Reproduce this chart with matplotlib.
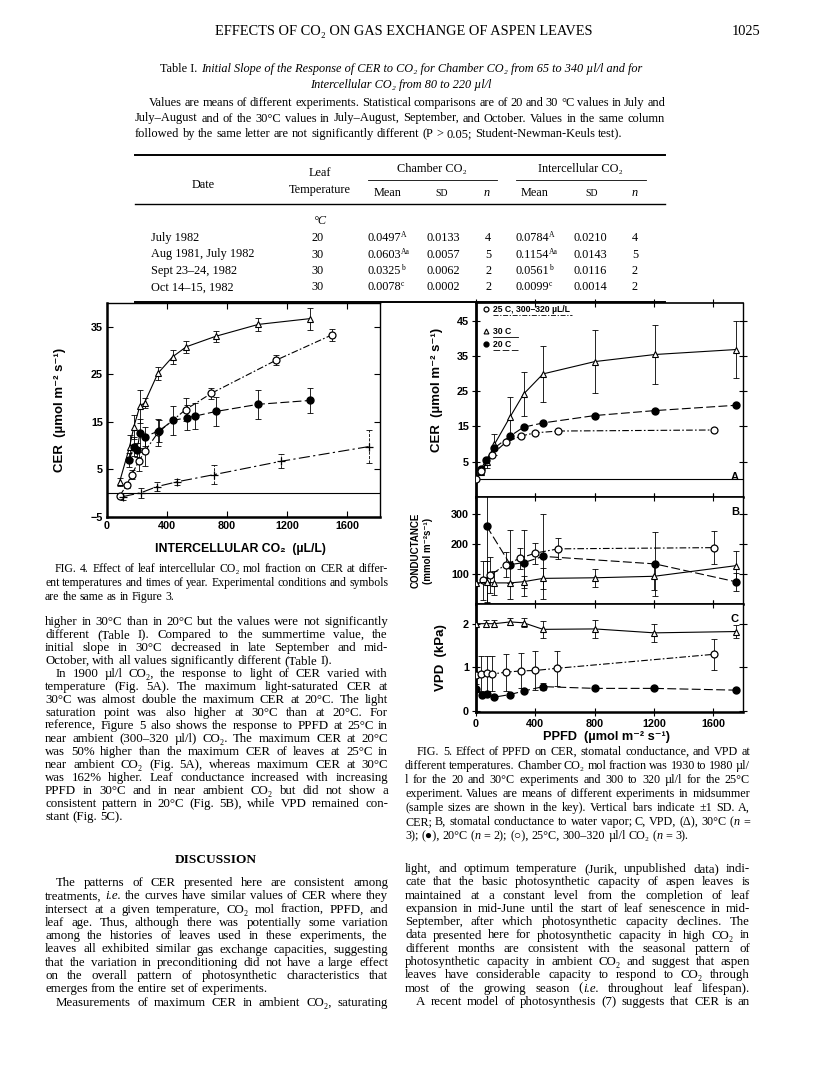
import re
import numpy as np
import matplotlib
matplotlib.use("Agg")
import matplotlib.pyplot as plt
from matplotlib.font_manager import FontProperties
from matplotlib.lines import Line2D

# ---------------- Fig. 4 : CER vs intercellular CO2 ----------------
f4_tri_x = [84, 150, 179, 219, 250, 339, 438, 529, 725, 1009, 1350]
f4_tri_y = [2.4, 9.7, 14.0, 18.3, 19.0, 25.2, 28.7, 30.8, 33.0, 35.5, 36.7]
f4_tri_e = [0.8, 2.5, 2.5, 3.5, 1.0, 1.3, 1.5, 1.3, 1.2, 1.3, 2.3]

f4_open_x = [86, 131, 164, 212, 252, 341, 525, 695, 1129, 1500]
f4_open_y = [-0.5, 1.7, 3.9, 6.7, 8.8, 12.8, 17.6, 21.0, 28.0, 33.3]
f4_open_e = [0.3, 0.5, 1.0, 2.0, 3.0, 2.8, 2.5, 1.2, 1.0, 1.2]

f4_fill_x = [148, 179, 201, 219, 252, 345, 440, 535, 584, 728, 1009, 1350]
f4_fill_y = [7.0, 9.8, 9.1, 12.6, 11.9, 13.1, 15.3, 15.9, 16.2, 17.2, 18.7, 19.5]
f4_fill_e = [1.5, 2.0, 1.5, 3.0, 2.0, 2.3, 3.0, 2.7, 2.7, 3.0, 3.0, 2.7]

f4_cross_x = [108, 226, 334, 467, 712, 1157, 1744]
f4_cross_y = [-0.7, 0.1, 1.4, 2.4, 3.9, 6.7, 9.8]
f4_cross_e = [0.7, 1.0, 1.0, 0.6, 2.0, 1.5, 3.5]

# ---------------- Fig. 5 : response to PPFD ----------------
# A, CER
f5a_tri_x = [36, 72, 124, 231, 321, 452, 802, 1207, 1750]
f5a_tri_y = [2.0, 4.8, 9.9, 17.8, 24.2, 29.9, 33.4, 35.4, 36.8]
f5a_tri_e = [0.5, 1.5, 3.0, 5.5, 6.3, 8.0, 9.0, 8.5, 8.2]
f5a_fill_x = [36, 68, 124, 231, 321, 452, 802, 1207, 1750]
f5a_fill_y = [3.0, 5.6, 8.9, 12.3, 14.8, 16.0, 18.1, 19.5, 21.0]
f5a_open_x = [0, 32, 106, 201, 303, 400, 554, 1605]
f5a_open_y = [0.0, 2.3, 7.0, 10.5, 12.3, 13.2, 13.7, 14.0]
# B, conductance
f5b_fill_x = [72, 231, 321, 452, 1207, 1750]
f5b_fill_y = [258, 131, 137, 158, 133, 74]
f5b_fill_e = [250, 115, 110, 140, 105, 30]
f5b_open_x = [45, 95, 201, 298, 400, 554, 1605]
f5b_open_y = [78, 95, 131, 152, 169, 183, 187]
f5b_open_e = [65, 60, 40, 35, 35, 35, 55]
f5b_tri_x = [0, 77, 124, 231, 321, 452, 802, 1202, 1750]
f5b_tri_y = [70, 72, 70, 70, 74, 85, 87, 92, 127]
f5b_tri_e = [0, 70, 40, 0, 20, 35, 30, 45, 50]
# C, VPD
f5c_tri_x = [0, 68, 124, 231, 321, 452, 802, 1202, 1750]
f5c_tri_y = [2.0, 2.0, 2.0, 2.04, 2.02, 1.87, 1.88, 1.79, 1.82]
f5c_tri_e = [0, 0.08, 0.08, 0.08, 0.1, 0.2, 0.2, 0.2, 0.15]
f5c_open_x = [0, 32, 77, 111, 201, 303, 400, 547, 1605]
f5c_open_y = [0.82, 0.85, 0.87, 0.85, 0.89, 0.92, 0.93, 0.98, 1.30]
f5c_open_e = [0.2, 0.4, 0.4, 0.4, 0.42, 0.4, 0.45, 0.4, 0.35]
f5c_fill_x = [0, 38, 77, 124, 231, 321, 452, 802, 1202, 1750]
f5c_fill_y = [0.50, 0.37, 0.39, 0.32, 0.38, 0.46, 0.56, 0.52, 0.52, 0.48]
f5c_fill_e = [0, 0, 0, 0, 0, 0, 0.08, 0, 0, 0]

# ---------------- Table I ----------------
tab_dates = ["July 1982", "Aug 1981, July 1982", "Sept 23–24, 1982", "Oct 14–15, 1982"]
tab_temp = ["20", "30", "30", "30"]
tab_ch_mean = ["0.0497", "0.0603", "0.0325", "0.0078"]
tab_ch_sup = ["A", "Aa", "b", "c"]
tab_ch_sd = ["0.0133", "0.0057", "0.0062", "0.0002"]
tab_ch_n = ["4", "5", "2", "2"]
tab_ic_mean = ["0.0784", "0.1154", "0.0561", "0.0099"]
tab_ic_sup = ["A", "Aa", "b", "c"]
tab_ic_sd = ["0.0210", "0.0143", "0.0116", "0.0014"]
tab_ic_n = ["4", "5", "2", "2"]

W, H = 816, 1073
fig = plt.figure(figsize=(W / 100, H / 100), dpi=100, facecolor="white")
rend = fig.canvas.get_renderer()
SERIF = ['Liberation Serif', 'DejaVu Serif']
SANS = ['Liberation Sans', 'DejaVu Sans']


def fx(x):
    return x / W


def fy(y):
    return 1 - y / H


def width(s, size, style='normal', family=SERIF):
    fp = FontProperties(family=family, size=size, style=style)
    return rend.get_text_width_height_descent(s, fp, ismath=False)[0]


def put(x, y, s, size=8.8, ha='left', style='normal', weight='normal', family=SERIF):
    fig.text(fx(x), fy(y), s, fontsize=size, ha=ha, va='baseline',
             style=style, weight=weight, family=family)


def hline(x0, x1, y, lw=0.8, ls='-'):
    fig.add_artist(Line2D([fx(x0), fx(x1)], [fy(y), fy(y)], transform=fig.transFigure,
                          color='black', lw=lw, ls=ls))


def segs(word):
    # '_' toggles italic inside a word
    out = []
    for i, p in enumerate(word.split('_')):
        if p:
            out.append((p, 'italic' if i % 2 else 'normal'))
    return out


def block(lines, x0, x1, y0, dy, size, indent=11):
    # justified text, one line per entry; '>' = indent, '|' = ragged last line
    for i, line in enumerate(lines):
        y = y0 + i * dy
        x = x0
        if line.startswith('>'):
            line = line[1:]
            x += indent
        last = line.endswith('|')
        line = line.rstrip('|')
        words = [segs(w) for w in line.split(' ')]
        sz = size
        while True:
            sp = width('a a', sz) - width('aa', sz)
            ws = [sum(width(t, sz, st) for t, st in w) for w in words]
            if last or len(words) == 1:
                gap = sp
                break
            gap = (x1 - x - sum(ws)) / (len(words) - 1)
            if gap >= 0.7 * sp or sz < size - 1.5:
                break
            sz -= 0.1
        for w, wd in zip(words, ws):
            xx = x
            for t, st in w:
                put(xx, y, t, sz, style=st)
                xx += width(t, sz, st)
            x += wd + gap


# ---------------- page header and table ----------------
put(404, 35, "EFFECTS OF CO₂ ON GAS EXCHANGE OF ASPEN LEAVES", 10.4, ha='center')
put(760, 35, "1025", 10.4, ha='right')

t1 = "Table I. "
t2 = "Initial Slope of the Response of CER to CO₂ for Chamber CO₂ from 65 to 340 µl/l and for"
w1, w2 = width(t1, 8.8), width(t2, 8.8, 'italic')
xs = 401 - (w1 + w2) / 2
put(xs, 72, t1, 8.8)
put(xs + w1, 72, t2, 8.8, style='italic')
put(401, 88, "Intercellular CO₂ from 80 to 220 µl/l", 8.8, ha='center', style='italic')

notes = [
    ">Values are means of different experiments. Statistical comparisons are of 20 and 30 °C values in July and",
    "July–August and of the 30°C values in July–August, September, and October. Values in the same column",
    "followed by the same letter are not significantly different (P > 0.05; Student-Newman-Keuls test).|",
]
block(notes, 135, 665, 106, 15.5, 8.9, indent=14)

hline(135, 665, 155, lw=1.4)
put(432, 172, "Chamber CO₂", 8.8, ha='center')
put(580, 172, "Intercellular CO₂", 8.8, ha='center')
hline(368, 497, 180, lw=0.6)
hline(516, 646, 180, lw=0.6)
put(203, 188, "Date", 8.8, ha='center')
put(320, 176, "Leaf", 8.8, ha='center')
put(320, 193, "Temperature", 8.8, ha='center')
for xc, s, sz in [(388, "Mean", 8.8), (442, "SD", 7.0), (487, "n", 8.8),
                  (535, "Mean", 8.8), (592, "SD", 7.0), (635, "n", 8.8)]:
    put(xc, 196, s, sz, ha='center', style='italic' if s == 'n' else 'normal')
hline(135, 665, 204, lw=1.0)
put(320, 224, "°C", 8.8, ha='center', style='italic')

for i in range(len(tab_dates)):
    y = 241 + i * 16.5
    put(151, y, tab_dates[i], 8.8)
    put(318, y, tab_temp[i], 8.8, ha='center')
    put(367, y, tab_ch_mean[i], 8.8)
    put(367 + width(tab_ch_mean[i], 8.8) + 0.5, y - 4, tab_ch_sup[i], 5.5)
    put(443, y, tab_ch_sd[i], 8.8, ha='center')
    put(488, y, tab_ch_n[i], 8.8, ha='center')
    put(515, y, tab_ic_mean[i], 8.8)
    put(515 + width(tab_ic_mean[i], 8.8) + 0.5, y - 4, tab_ic_sup[i], 5.5)
    put(590, y, tab_ic_sd[i], 8.8, ha='center')
    put(635, y, tab_ic_n[i], 8.8, ha='center')
hline(135, 665, 302, lw=1.4)

# ---------------- plotting helpers ----------------
OPEN = dict(marker='o', mfc='white', mec='black', ms=5, mew=0.9)
FILL = dict(marker='o', mfc='black', mec='black', ms=5)
TRI = dict(marker='^', mfc='white', mec='black', ms=5, mew=0.8)
CROSS = dict(marker='+', mec='black', ms=6, mew=0.9)
DASHDOT = (0, (6, 2, 1.5, 2))
DASHED = (0, (8, 3))
LONGDD = (0, (10, 3, 2, 3))


def series(ax, x, y, e, style, ls, ebls='-'):
    if e is not None:
        eb = ax.errorbar(x, y, yerr=e, fmt='none', ecolor='black', elinewidth=0.6,
                         capsize=2, capthick=0.6, zorder=2)
        eb[2][0].set_linestyle(ebls)
    ax.plot(x, y, color='black', lw=0.8, ls=ls, zorder=3, **style)


def style_ticks(ax, size=7.5):
    for lab in ax.get_xticklabels() + ax.get_yticklabels():
        lab.set_fontproperties(FontProperties(family=SANS, weight='bold', size=size))


# ---------------- Fig. 4 ----------------
ax4 = fig.add_axes([fx(107), fy(517), fx(380) - fx(107), fy(303) - fy(517)])
ax4.axhline(0, color='black', lw=0.8)
series(ax4, f4_tri_x, f4_tri_y, f4_tri_e, TRI, '-')
series(ax4, f4_open_x, f4_open_y, f4_open_e, OPEN, DASHDOT)
series(ax4, f4_fill_x, f4_fill_y, f4_fill_e, FILL, DASHED)
series(ax4, f4_cross_x, f4_cross_y, f4_cross_e, CROSS, LONGDD, ebls='--')
ax4.set_xlim(0, 1820)
ax4.set_ylim(-5, 40)
ax4.set_xticks([0, 400, 800, 1200, 1600])
ax4.set_yticks([-5, 5, 15, 25, 35])
ax4.set_yticklabels(['−5', '5', '15', '25', '35'])
ax4.tick_params(direction='in', top=True, right=True, length=4, width=0.8, pad=3)
style_ticks(ax4, 7.8)
for s in ['left', 'bottom']:
    ax4.spines[s].set_linewidth(1.8)
for s in ['top', 'right']:
    ax4.spines[s].set_linewidth(1.0)
ax4.set_ylabel("CER  (µmol m⁻² s⁻¹)", fontsize=9.5, fontweight='bold', family=SANS)
ax4.yaxis.set_label_coords(-0.15, 0.5)
ax4.set_xlabel("INTERCELLULAR CO₂  (µL/L)", fontsize=8.8, fontweight='bold', family=SANS)
ax4.xaxis.set_label_coords(0.49, -0.12)

cap4 = [
    ">FIG. 4. Effect of leaf intercellular CO₂ mol fraction on CER at differ-",
    "ent temperatures and times of year. Experimental conditions and symbols",
    "are the same as in Figure 3.|",
]
block(cap4, 45, 388, 572, 14, 8.5, indent=10)

# ---------------- Fig. 5 ----------------
L, R = 476, 743
axA = fig.add_axes([fx(L), fy(497), fx(R) - fx(L), fy(303) - fy(497)])
axB = fig.add_axes([fx(L), fy(604), fx(R) - fx(L), fy(497) - fy(604)])
axC = fig.add_axes([fx(L), fy(712), fx(R) - fx(L), fy(604) - fy(712)])

axA.axhline(0, color='black', lw=0.8)
series(axA, f5a_tri_x, f5a_tri_y, f5a_tri_e, TRI, '-')
series(axA, f5a_fill_x, f5a_fill_y, None, FILL, DASHED)
series(axA, f5a_open_x, f5a_open_y, None, OPEN, DASHDOT)
axA.set_ylim(-5, 50)
axA.set_yticks([5, 15, 25, 35, 45])

series(axB, f5b_fill_x, f5b_fill_y, f5b_fill_e, FILL, DASHED)
series(axB, f5b_open_x, f5b_open_y, f5b_open_e, OPEN, DASHDOT)
series(axB, f5b_tri_x, f5b_tri_y, f5b_tri_e, TRI, '-')
axB.set_ylim(0, 355)
axB.set_yticks([100, 200, 300])

series(axC, f5c_tri_x, f5c_tri_y, f5c_tri_e, TRI, '-')
series(axC, f5c_open_x, f5c_open_y, f5c_open_e, OPEN, DASHDOT)
series(axC, f5c_fill_x, f5c_fill_y, f5c_fill_e, FILL, DASHED)
axC.set_ylim(-0.02, 2.45)
axC.set_yticks([0, 1, 2])

for ax in (axA, axB, axC):
    ax.set_xlim(0, 1800)
    ax.set_xticks([0, 400, 800, 1200, 1600])
    ax.tick_params(direction='inout', top=True, right=True, length=6, width=0.8, pad=2)
    ax.spines['left'].set_linewidth(2.0)
    ax.spines['bottom'].set_linewidth(1.8)
    ax.spines['top'].set_linewidth(1.2)
    ax.spines['right'].set_linewidth(1.0)
    if ax is not axC:
        ax.tick_params(labelbottom=False)
    style_ticks(ax, 7.8)

axA.text(0.985, 0.09, "A", transform=axA.transAxes, ha='right', fontsize=8, fontweight='bold', family=SANS)
axB.text(0.985, 0.83, "B", transform=axB.transAxes, ha='right', fontsize=8, fontweight='bold', family=SANS)
axC.text(0.985, 0.83, "C", transform=axC.transAxes, ha='right', fontsize=8, fontweight='bold', family=SANS)

axA.set_ylabel("CER  (µmol m⁻² s⁻¹)", fontsize=9.5, fontweight='bold', family=SANS)
axA.yaxis.set_label_coords(-0.125, 0.55)
axB.set_ylabel("CONDUCTANCE\n(mmol m⁻²s⁻¹)", fontsize=7.0, fontweight='bold', family=SANS,
               linespacing=1.3)
axB.yaxis.set_label_coords(-0.16, 0.5)
axC.set_ylabel("VPD  (kPa)", fontsize=9.5, fontweight='bold', family=SANS)
axC.yaxis.set_label_coords(-0.11, 0.5)
axC.set_xlabel("PPFD  (µmol m⁻² s⁻¹)", fontsize=9.2, fontweight='bold', family=SANS)
axC.xaxis.set_label_coords(0.49, -0.18)

# key in panel A
key = [("25 C, 300–320 µL/L", OPEN, DASHDOT, 312, 572),
       ("30 C", TRI, '-', 334, 518),
       ("20 C", FILL, DASHED, 347, 518)]
for lab, st, ls, yk, xe in key:
    fig.add_artist(Line2D([fx(486)], [fy(yk - 3)], transform=fig.transFigure,
                          color='black', lw=0, **dict(st, ms=3.5)))
    put(493, yk, lab, 6.2, weight='bold', family=SANS)
    hline(493, xe, yk + 3, lw=0.6, ls=ls)

cap5 = [
    ">FIG. 5. Effect of PPFD on CER, stomatal conductance, and VPD at",
    "different temperatures. Chamber CO₂ mol fraction was 1930 to 1980 µl/",
    "l for the 20 and 30°C experiments and 300 to 320 µl/l for the 25°C",
    "experiment. Values are means of different experiments in midsummer",
    "(sample sizes are shown in the key). Vertical bars indicate ±1 SD. A,",
    "CER; B, stomatal conductance to water vapor; C, VPD, (Δ), 30°C (_n_ =",
    "3); (●), 20°C (_n_ = 2); (○), 25°C, 300–320 µl/l CO₂ (_n_ = 3).|",
]
block(cap5, 405, 750, 755, 14, 8.7, indent=12)

# ---------------- body text ----------------
left1 = [
    "higher in 30°C than in 20°C but the values were not significantly",
    "different (Table I). Compared to the summertime value, the",
    "initial slope in 30°C decreased in late September and mid-",
    "October, with all values significantly different (Table I).|",
    ">In 1900 µl/l CO₂, the response to light of CER varied with",
    "temperature (Fig. 5A). The maximum light-saturated CER at",
    "30°C was almost double the maximum CER at 20°C. The light",
    "saturation point was also higher at 30°C than at 20°C. For",
    "reference, Figure 5 also shows the response to PPFD at 25°C in",
    "near ambient (300–320 µl/l) CO₂. The maximum CER at 20°C",
    "was 50% higher than the maximum CER of leaves at 25°C in",
    "near ambient CO₂ (Fig. 5A), whereas maximum CER at 30°C",
    "was 162% higher. Leaf conductance increased with increasing",
    "PPFD in 30°C and in near ambient CO₂ but did not show a",
    "consistent pattern in 20°C (Fig. 5B), while VPD remained con-",
    "stant (Fig. 5C).|",
]
block(left1, 45, 388, 625, 13.0, 9.3)

put(216, 863, "DISCUSSION", 9.6, ha='center', weight='bold')
left2 = [
    ">The patterns of CER presented here are consistent among",
    "treatments, _i.e._ the curves have similar values of CER where they",
    "intersect at a given temperature, CO₂ mol fraction, PPFD, and",
    "leaf age. Thus, although there was potentially some variation",
    "among the histories of leaves used in these experiments, the",
    "leaves all exhibited similar gas exchange capacities, suggesting",
    "that the variation in preconditioning did not have a large effect",
    "on the overall pattern of photosynthetic characteristics that",
    "emerges from the entire set of experiments.|",
    ">Measurements of maximum CER in ambient CO₂, saturating",
]
block(left2, 45, 388, 886, 13.3, 9.3)

right1 = [
    "light, and optimum temperature (Jurik, unpublished data) indi-",
    "cate that the basic photosynthetic capacity of aspen leaves is",
    "maintained at a constant level from the completion of leaf",
    "expansion in mid-June until the start of leaf senescence in mid-",
    "September, after which photosynthetic capacity declines. The",
    "data presented here for photosynthetic capacity in high CO₂ in",
    "different months are consistent with the seasonal pattern of",
    "photosynthetic capacity in ambient CO₂ and suggest that aspen",
    "leaves have considerable capacity to respond to CO₂ through",
    "most of the growing season (_i.e._ throughout leaf lifespan).",
    ">A recent model of photosynthesis (7) suggests that CER is an",
]
block(right1, 405, 750, 872, 13.3, 9.3)

fig.savefig("out.png", dpi=100, facecolor="white")
